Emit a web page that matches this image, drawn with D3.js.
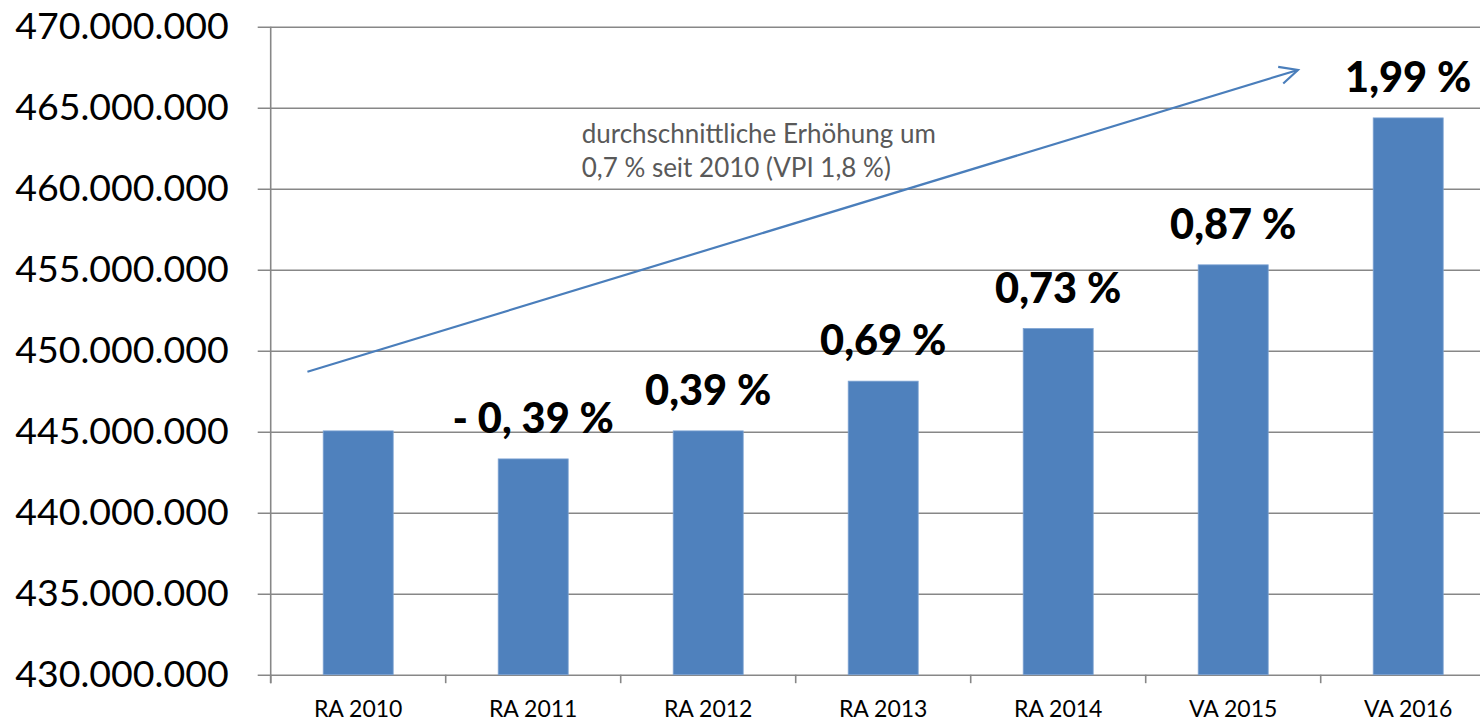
<!DOCTYPE html>
<html>
<head>
<meta charset="utf-8">
<script src="https://cdn.jsdelivr.net/npm/d3@7"></script>
<style>
  body { margin: 0; background: #fff; }
  svg { display: block; font-family: Lato, "Open Sans", sans-serif; }
</style>
</head>
<body>
<svg id="chart" width="1480" height="721"></svg>
<script>
// DATA
var categories = ["RA 2010", "RA 2011", "RA 2012", "RA 2013", "RA 2014", "VA 2015", "VA 2016"];
var values = [445050000, 443320000, 445050000, 448120000, 451370000, 455300000, 464370000];
var changeLabels = ["", "- 0, 39 %", "0,39 %", "0,69 %", "0,73 %", "0,87 %", "1,99 %"];
var yTicks = [430000000, 435000000, 440000000, 445000000, 450000000, 455000000, 460000000, 465000000, 470000000];
var noteLines = ["durchschnittliche Erhöhung um", "0,7 % seit 2010 (VPI 1,8 %)"];
// trend arrow in (category index, value)
var trendFrom = [-0.29, 448700000];
var trendTo = [5.37, 467330000];

// LAYOUT
var svg = d3.select("#chart");
var plotLeft = 270.7, plotRight = 1495.7, plotTop = 26.7, plotBottom = 674.7;
var gridColor = "#878787";
var barColor = "#4f81bd";

var x = d3.scaleBand().domain(categories).range([plotLeft, plotRight]).paddingInner(0.6).paddingOuter(0.3);
var xi = d3.scaleLinear().domain([-0.5, categories.length - 0.5]).range([plotLeft, plotRight]);
var y = d3.scaleLinear().domain([430000000, 470000000]).range([plotBottom, plotTop]);

var fmt = function(v) { return d3.format(",")(v).replace(/,/g, "."); };

// GRIDLINES + Y LABELS
var yAxis = d3.axisLeft(y).tickValues(yTicks).tickFormat(fmt)
    .tickSize(-(1480 - plotLeft)).tickPadding(42);
var gy = svg.append("g").attr("transform", "translate(" + plotLeft + ",0)").call(yAxis);
gy.select(".domain").remove();
gy.selectAll(".tick line").attr("x1", -13).attr("stroke", gridColor).attr("stroke-width", 1.4);
gy.selectAll(".tick text").attr("fill", "#000").style("font-size", "37.5px")
    .style("font-family", "Lato, 'Open Sans', sans-serif");

// Y AXIS LINE
svg.append("line").attr("x1", plotLeft).attr("x2", plotLeft).attr("y1", plotTop).attr("y2", plotBottom + 8.5)
    .attr("stroke", gridColor).attr("stroke-width", 1.6);

// X AXIS TICKS
var bounds = d3.range(categories.length + 1).map(function(i) { return xi(i - 0.5); });
svg.selectAll("line.xtick").data(bounds).enter().append("line")
    .attr("class", "xtick")
    .attr("x1", function(d) { return d; }).attr("x2", function(d) { return d; })
    .attr("y1", plotBottom).attr("y2", plotBottom + 8.5)
    .attr("stroke", gridColor).attr("stroke-width", 1.6);

// BARS
svg.selectAll("rect.bar").data(values).enter().append("rect")
    .attr("class", "bar")
    .attr("x", function(d, i) { return x(categories[i]); })
    .attr("y", function(d) { return y(d); })
    .attr("width", x.bandwidth())
    .attr("height", function(d) { return plotBottom - y(d); })
    .attr("fill", barColor)
    .attr("stroke", "#7ea3d3").attr("stroke-width", 0.8);

// X LABELS
svg.selectAll("text.xlab").data(categories).enter().append("text")
    .attr("class", "xlab")
    .attr("x", function(d) { return x(d) + x.bandwidth() / 2; })
    .attr("y", 717)
    .attr("text-anchor", "middle")
    .style("font-size", "23px")
    .text(function(d) { return d; });

// CHANGE LABELS
svg.selectAll("text.change").data(changeLabels).enter().append("text")
    .attr("class", "change")
    .attr("x", function(d, i) { return x(categories[i]) + x.bandwidth() / 2; })
    .attr("y", function(d, i) { return y(values[i]) - 26; })
    .attr("text-anchor", "middle")
    .style("font-size", "41.5px").style("font-weight", "900")
    .text(function(d) { return d; });

// TREND ARROW
var ax1 = xi(trendFrom[0]), ay1 = y(trendFrom[1]), ax2 = xi(trendTo[0]), ay2 = y(trendTo[1]);
var ang = Math.atan2(ay2 - ay1, ax2 - ax1);
var head = 20, spread = 0.45;
svg.append("line").attr("x1", ax1).attr("y1", ay1).attr("x2", ax2).attr("y2", ay2)
    .attr("stroke", "#4a7ebb").attr("stroke-width", 2.2);
svg.append("path")
    .attr("d", "M" + (ax2 - head * Math.cos(ang - spread)) + "," + (ay2 - head * Math.sin(ang - spread)) +
        "L" + ax2 + "," + ay2 +
        "L" + (ax2 - head * Math.cos(ang + spread)) + "," + (ay2 - head * Math.sin(ang + spread)))
    .attr("fill", "none").attr("stroke", "#4a7ebb").attr("stroke-width", 2.2);

// NOTE
svg.append("text")
    .attr("x", xi(1.277)).attr("y", y(462820000))
    .attr("fill", "#595959").style("font-size", "26px")
    .selectAll("tspan").data(noteLines).enter().append("tspan")
    .attr("x", xi(1.277)).attr("dy", function(d, i) { return i ? 34 : 0; })
    .text(function(d) { return d; });
</script>
</body>
</html>
